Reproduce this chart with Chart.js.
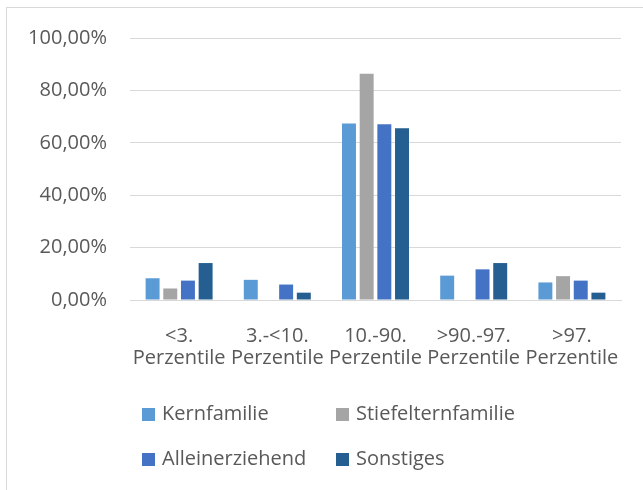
<!DOCTYPE html>
<html>
<head>
<meta charset="utf-8">
<script src="https://cdn.jsdelivr.net/npm/chart.js@4/dist/chart.umd.min.js"></script>
<style>
  html, body { margin: 0; padding: 0; background: #fff; overflow: hidden; }
  #wrap { position: relative; width: 643px; height: 490px; }
  #frame { position: absolute; left: 6px; top: 7px; width: 660px; height: 500px;
           border-left: 1px solid #d9d9d9; border-top: 1px solid #d9d9d9; box-sizing: border-box; }
  canvas { position: absolute; left: 0; top: 0; }
  .lg { position: absolute; font-family: "Open Sans", sans-serif; font-size: 20px; color: #595959;
        white-space: nowrap; line-height: 24px; }
  .lg .box { position: absolute; width: 13px; height: 13px; left: 0; top: 5px; }
  .lg .txt { position: absolute; left: 20px; top: -2px; }
</style>
</head>
<body>
<div id="wrap">
  <div id="frame"></div>
  <canvas id="c" width="643" height="490"></canvas>
</div>
<script>
const categories = [["<3.", "Perzentile"], ["3.-<10.", "Perzentile"], ["10.-90.", "Perzentile"], [">90.-97.", "Perzentile"], [">97.", "Perzentile"]];
const seriesNames = ["Kernfamilie", "Stiefelternfamilie", "Alleinerziehend", "Sonstiges"];
const kernfamilie = [8.3, 7.7, 67.4, 9.3, 6.7];
const stiefelternfamilie = [4.4, 0, 86.4, 0, 9.1];
const alleinerziehend = [7.4, 5.9, 67.1, 11.7, 7.4];
const sonstiges = [14.1, 2.8, 65.6, 14.1, 2.8];
const yTicks = [0, 20, 40, 60, 80, 100];

const colors = ["#5B9BD5", "#A5A5A5", "#4472C4", "#255E91"];
const values = [kernfamilie, stiefelternfamilie, alleinerziehend, sonstiges];
const textColor = "#595959";
const fontFamily = '"Open Sans", sans-serif';

const chart = new Chart(document.getElementById("c"), {
  type: "bar",
  data: {
    labels: categories,
    datasets: seriesNames.map((n, i) => ({
      label: n,
      data: values[i],
      backgroundColor: colors[i],
      borderWidth: 0,
      categoryPercentage: 0.72,
      barPercentage: 0.79
    }))
  },
  options: {
    responsive: false,
    animation: false,
    devicePixelRatio: 1,
    layout: { padding: { left: 0, right: 22, top: 38, bottom: 120 } },
    plugins: { legend: { display: false }, tooltip: { enabled: false } },
    scales: {
      x: {
        grid: { display: false, drawTicks: false },
        border: { display: true, color: "#d9d9d9", width: 1 },
        ticks: { color: textColor, font: { family: fontFamily, size: 20, lineHeight: 1.1 },
                 maxRotation: 0, minRotation: 0, autoSkip: false, padding: 25 },
        afterFit: (s) => { s.height = 70; s.paddingLeft = 0; s.paddingRight = 0; }
      },
      y: {
        min: 0, max: 100,
        afterBuildTicks: (s) => { s.ticks = yTicks.map(v => ({ value: v })); },
        grid: { color: "#d9d9d9", lineWidth: 1, drawTicks: false },
        border: { display: false },
        ticks: { color: textColor, font: { family: fontFamily, size: 20 }, padding: 23,
                 callback: (v) => v.toFixed(2).replace(".", ",") + "%" },
        afterFit: (s) => { s.width = 130; s.paddingTop = 0; s.paddingBottom = 0; }
      }
    }
  }
});

// HTML legend built from the chart's datasets
const legendPos = [[142, 415], [336, 415], [142, 460], [336, 460]];
chart.data.datasets.forEach((ds, i) => {
  const d = document.createElement("div");
  d.className = "lg";
  d.style.left = legendPos[i][0] + "px";
  d.style.top = (legendPos[i][1] - 12) + "px";
  const b = document.createElement("span");
  b.className = "box";
  b.style.background = ds.backgroundColor;
  const t = document.createElement("span");
  t.className = "txt";
  t.textContent = ds.label;
  d.appendChild(b); d.appendChild(t);
  document.getElementById("wrap").appendChild(d);
});
</script>
</body>
</html>
